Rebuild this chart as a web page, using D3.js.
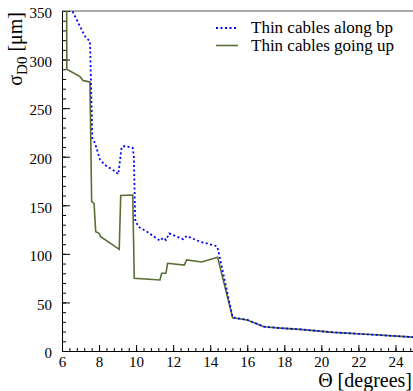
<!DOCTYPE html>
<html>
<head>
<meta charset="utf-8">
<script src="https://cdn.jsdelivr.net/npm/d3@7"></script>
<style>
  body { margin: 0; background: #fff; }
  svg { display: block; }
  svg text { font-family: "Liberation Serif", "Times New Roman", Times, "DejaVu Serif", serif !important; }
  .axis path, .axis line { stroke: #000; }
  .axis text { font-size: 15px; fill: #000; }
</style>
</head>
<body>
<svg id="chart" width="413" height="391"></svg>
<script>
// ── Data ────────────────────────────────────────────────────────────────────
const seriesNames = ["Thin cables along bp", "Thin cables going up"];

const alongTheta = [6.25, 6.56, 7.24, 7.51, 7.64, 7.78, 8.05, 8.32, 8.77, 9.04, 9.22, 9.40, 9.82,
  9.88, 9.95, 10.12, 10.57, 11.29, 11.47, 11.61, 11.79, 12.55, 12.73, 13.45, 14.35, 14.43,
  15.21, 16.0, 16.9, 17.8, 18.84, 20.64, 22.44, 24.94, 25.0];
const alongSigma = [362, 350, 324, 318.5, 219, 214, 197, 191.5, 186, 182, 210, 211, 209,
  200, 135, 128, 123, 113.5, 116.7, 114.3, 121, 115, 118.4, 112.5, 108, 104,
  34.5, 32, 25, 23.5, 22.3, 19.2, 17.2, 14.3, 14.2];

const upTheta = [6.25, 6.26, 6.97, 7.15, 7.51, 7.60, 7.73, 7.82, 8.0, 8.09, 9.09, 9.17, 9.82,
  9.90, 11.29, 11.38, 11.61, 11.70, 12.60, 12.73, 13.54, 14.40,
  15.21, 16.0, 16.9, 17.8, 18.84, 20.64, 22.44, 24.94, 25.0];
const upSigma = [380, 290, 282.4, 278.3, 276.9, 153.7, 152, 122.8, 121.2, 117.7, 104.7, 160, 160.6,
  74.8, 73.1, 80, 80, 90.3, 88.5, 93.7, 91.6, 96.5,
  34.3, 32, 25, 23.5, 22.3, 19.2, 17.2, 14.3, 14.2];

const xTicks = [6, 8, 10, 12, 14, 16, 18, 20, 22, 24];
const yTicks = [0, 50, 100, 150, 200, 250, 300, 350];

const COLOR = { along: "#0000ff", up: "#586e33" };
const SERIF = "Liberation Serif";

// ── Chart ────────────────────────────────────────────────────────────────────
const svg = d3.select("#chart");
const margin = { top: 11, left: 62 };
const w = 352, h = 340;

const x = d3.scaleLinear().domain([6, 25]).range([0, w]);
const y = d3.scaleLinear().domain([0, 350]).range([h, 0]);

const g = svg.append("g").attr("transform", `translate(${margin.left},${margin.top})`);

g.append("clipPath").attr("id", "clip")
  .append("rect").attr("x", 0).attr("y", 0).attr("width", w).attr("height", h);

// minor ticks (inward)
g.append("g").attr("class", "axis").attr("transform", `translate(0,${h})`)
  .call(d3.axisBottom(x).tickValues(d3.range(6, 25.01, 0.4)).tickSize(-3).tickFormat(""))
  .call(a => a.select(".domain").remove());
g.append("g").attr("class", "axis")
  .call(d3.axisLeft(y).tickValues(d3.range(0, 351, 10)).tickSize(-4).tickFormat(""))
  .call(a => a.select(".domain").remove());

// major ticks + labels
g.append("g").attr("class", "axis").attr("transform", `translate(0,${h})`)
  .call(d3.axisBottom(x).tickValues(xTicks).tickSize(-6).tickPadding(5).tickSizeOuter(0))
  .attr("font-family", SERIF).attr("font-size", 15)
  .call(a => a.selectAll("text").attr("dy", "0.72em"));
g.append("g").attr("class", "axis")
  .call(d3.axisLeft(y).tickValues(yTicks).tickSize(-8).tickPadding(10).tickSizeOuter(0))
  .attr("font-family", SERIF).attr("font-size", 15)
  .call(a => a.selectAll("text").attr("dy", "0.45em"));

// top frame
g.append("line")
  .attr("x1", 0).attr("x2", w).attr("y1", 0).attr("y2", 0)
  .attr("stroke", "#555").attr("stroke-width", 1);

const line = d3.line().x(d => x(d[0])).y(d => y(d[1]));

const plot = g.append("g").attr("clip-path", "url(#clip)");
plot.append("path")
  .datum(d3.zip(upTheta, upSigma))
  .attr("fill", "none").attr("stroke", COLOR.up).attr("stroke-width", 1.6)
  .attr("d", line);
plot.append("path")
  .datum(d3.zip(alongTheta, alongSigma))
  .attr("fill", "none").attr("stroke", COLOR.along).attr("stroke-width", 1.8)
  .attr("stroke-dasharray", "2,2.5")
  .attr("d", line);

// axis titles
svg.append("text")
  .attr("x", 412).attr("y", 387)
  .attr("text-anchor", "end")
  .attr("font-family", SERIF)
  .attr("font-size", 20)
  .text("Θ [degrees]");

const yt = svg.append("text")
  .attr("transform", "translate(22,12) rotate(-90)")
  .attr("text-anchor", "end")
  .attr("font-family", SERIF)
  .attr("font-size", 20);
yt.append("tspan").text("σ");
yt.append("tspan").attr("font-size", 15).attr("dy", 5).text("D0");
yt.append("tspan").attr("dy", -5).text(" [μm]");

// legend
const legend = svg.append("g").attr("transform", "translate(216,28)");
const items = [
  { name: seriesNames[0], color: COLOR.along, dash: "2,2.5", w: 1.8 },
  { name: seriesNames[1], color: COLOR.up, dash: null, w: 1.6 }
];
items.forEach((it, i) => {
  const row = legend.append("g").attr("transform", `translate(0,${i * 17.5})`);
  row.append("line")
    .attr("x1", 0).attr("x2", 22).attr("y1", 0).attr("y2", 0)
    .attr("stroke", it.color).attr("stroke-width", it.w)
    .attr("stroke-dasharray", it.dash);
  row.append("text")
    .attr("x", 35).attr("y", 5)
    .attr("font-family", SERIF)
    .attr("font-size", 17)
    .text(it.name);
});
</script>
</body>
</html>
